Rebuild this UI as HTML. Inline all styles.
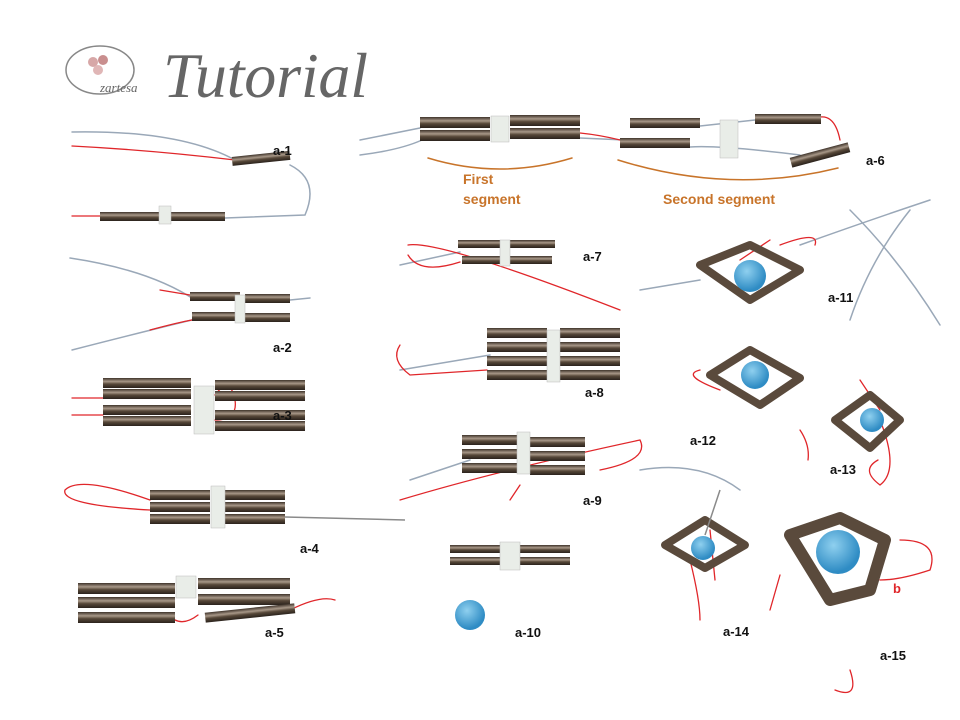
<!DOCTYPE html>
<html><head><meta charset="utf-8"><style>
html,body{margin:0;padding:0;background:#fff;width:960px;height:720px;overflow:hidden}
svg{display:block}
.l{font-family:"Liberation Sans",sans-serif;font-weight:bold;font-size:13px;fill:#111}
.o{font-family:"Liberation Sans",sans-serif;font-weight:bold;font-size:14px;fill:#c8742a}
</style></head><body>
<svg width="960" height="720" viewBox="0 0 960 720" xmlns="http://www.w3.org/2000/svg">
<defs>
<linearGradient id="b" x1="0" y1="0" x2="0" y2="1">
<stop offset="0" stop-color="#3e332a"/><stop offset="0.35" stop-color="#a89888"/><stop offset="0.6" stop-color="#574839"/><stop offset="1" stop-color="#2a221c"/></linearGradient>
<radialGradient id="ball" cx="0.4" cy="0.35" r="0.6"><stop offset="0" stop-color="#8fd0ef"/><stop offset="1" stop-color="#2f8cc4"/></radialGradient>
</defs>
<!-- logo -->
<ellipse cx="100" cy="70" rx="34" ry="24" fill="none" stroke="#888" stroke-width="1.5"/>
<circle cx="93" cy="62" r="5" fill="#d7a7a7"/><circle cx="103" cy="60" r="5" fill="#c98e8e"/><circle cx="98" cy="70" r="5" fill="#e0b6b6"/>
<text x="100" y="92" font-family="Liberation Serif,serif" font-style="italic" font-size="13" fill="#666">zartesa</text>
<text x="163" y="97" font-family="Liberation Serif,serif" font-style="italic" font-size="64" fill="#666" textLength="205">Tutorial</text>
<g fill="none" stroke-linecap="round">
<g stroke="#9aa8b8" stroke-width="1.5">
<path d="M72 132 Q180 130 235 160 M290 165 Q320 180 305 215 L225 218"/>
<path d="M70 258 Q150 270 195 300 M72 350 Q150 330 200 318 M290 300 L310 298"/>
<path d="M360 155 Q400 150 422 140 M360 140 L420 128 M580 138 L625 140 M700 126 L755 120 M690 147 Q720 145 800 155"/>
<path d="M400 265 L460 252 M400 370 L490 355 M410 480 L470 460 M640 290 L700 280 M640 470 Q700 460 740 490"/>
<path d="M930 200 Q870 220 800 245 M910 210 Q870 260 850 320 M850 210 Q900 260 940 325"/>
</g>
<g stroke="#e0262a" stroke-width="1.3">
<path d="M72 146 Q150 150 235 160 M72 216 L100 216"/>
<path d="M190 295 L160 290 M192 320 Q180 322 150 330"/>
<path d="M72 398 L103 398 M72 415 L103 415 M215 395 Q230 375 235 400 Q238 420 215 420"/>
<path d="M150 500 Q80 475 65 490 Q60 505 150 510"/>
<path d="M290 610 Q320 595 335 600 M175 620 Q185 625 198 615"/>
<path d="M580 133 Q600 135 620 140 M820 117 Q835 115 840 140"/>
<path d="M408 245 Q440 240 620 310 M460 262 Q420 275 408 255"/>
<path d="M400 345 Q390 360 410 375 L487 370"/>
<path d="M400 500 Q500 470 640 440 Q650 460 600 470 M520 485 L510 500"/>
<path d="M780 245 Q820 230 815 245 M770 240 L740 260"/>
<path d="M700 370 Q680 375 720 390 M800 430 Q810 445 808 460"/>
<path d="M880 420 Q900 470 880 485 Q860 470 878 460 M860 380 L880 410"/>
<path d="M690 560 Q700 600 700 620 M715 580 L710 530"/>
<path d="M900 540 Q940 540 930 570 Q900 580 880 580 M780 575 L770 610 M850 670 Q860 700 835 690"/>
</g>
<g stroke="#c8742a" stroke-width="1.5">
<path d="M428 158 Q500 180 572 158"/>
<path d="M618 160 Q730 195 838 168"/>
</g>
</g>
<g fill="url(#b)">
<rect x="232" y="154" width="58" height="9" transform="rotate(-6 260 158)"/>
<rect x="100" y="212" width="125" height="9"/>
<rect x="190" y="292" width="50" height="9"/><rect x="245" y="294" width="45" height="9"/>
<rect x="192" y="312" width="48" height="9"/><rect x="245" y="313" width="45" height="9"/>
<rect x="103" y="378" width="88" height="10"/><rect x="103" y="389" width="88" height="10"/>
<rect x="103" y="405" width="88" height="10"/><rect x="103" y="416" width="88" height="10"/>
<rect x="215" y="380" width="90" height="10"/><rect x="215" y="391" width="90" height="10"/>
<rect x="215" y="410" width="90" height="10"/><rect x="215" y="421" width="90" height="10"/>
<rect x="150" y="490" width="60" height="10"/><rect x="150" y="502" width="60" height="10"/><rect x="150" y="514" width="60" height="10"/>
<rect x="225" y="490" width="60" height="10"/><rect x="225" y="502" width="60" height="10"/><rect x="225" y="514" width="60" height="10"/>
<rect x="78" y="583" width="97" height="11"/><rect x="78" y="597" width="97" height="11"/><rect x="78" y="612" width="97" height="11"/>
<rect x="198" y="578" width="92" height="11"/><rect x="198" y="594" width="92" height="11"/>
<rect x="205" y="608" width="90" height="10" transform="rotate(-6 250 613)"/>
<rect x="420" y="117" width="70" height="11"/><rect x="420" y="130" width="70" height="11"/>
<rect x="510" y="115" width="70" height="11"/><rect x="510" y="128" width="70" height="11"/>
<rect x="630" y="118" width="70" height="10"/><rect x="620" y="138" width="70" height="10"/>
<rect x="755" y="114" width="66" height="10"/><rect x="790" y="150" width="60" height="10" transform="rotate(-15 820 155)"/>
<rect x="458" y="240" width="45" height="8"/><rect x="510" y="240" width="45" height="8"/>
<rect x="462" y="256" width="42" height="8"/><rect x="510" y="256" width="42" height="8"/>
<rect x="487" y="328" width="60" height="10"/><rect x="487" y="342" width="60" height="10"/><rect x="487" y="356" width="60" height="10"/><rect x="487" y="370" width="60" height="10"/>
<rect x="560" y="328" width="60" height="10"/><rect x="560" y="342" width="60" height="10"/><rect x="560" y="356" width="60" height="10"/><rect x="560" y="370" width="60" height="10"/>
<rect x="462" y="435" width="55" height="10"/><rect x="462" y="449" width="55" height="10"/><rect x="462" y="463" width="55" height="10"/>
<rect x="530" y="437" width="55" height="10"/><rect x="530" y="451" width="55" height="10"/><rect x="530" y="465" width="55" height="10"/>
<rect x="450" y="545" width="50" height="8"/><rect x="450" y="557" width="50" height="8"/>
<rect x="520" y="545" width="50" height="8"/><rect x="520" y="557" width="50" height="8"/>
</g>
<g stroke="#5a4a3c" stroke-width="8" fill="none" stroke-linejoin="round">
<path d="M700 265 L750 245 L800 270 L750 300 Z"/>
<path d="M710 375 L750 350 L800 378 L760 405 Z"/>
<path d="M835 420 L870 395 L900 420 L870 448 Z"/>
<path d="M665 545 L705 520 L745 545 L705 568 Z"/>
<path d="M790 535 L840 518 L885 540 L870 590 L830 600 Z" stroke-width="12"/>
</g>
<g fill="#e9ede8" stroke="#bbb" stroke-width="0.5">
<rect x="159" y="206" width="12" height="18"/><rect x="235" y="295" width="10" height="28"/>
<rect x="194" y="386" width="20" height="48"/><rect x="211" y="486" width="14" height="42"/>
<rect x="176" y="576" width="20" height="22"/><rect x="491" y="116" width="18" height="26"/>
<rect x="720" y="120" width="18" height="38"/><rect x="500" y="240" width="10" height="26"/>
<rect x="547" y="330" width="13" height="52"/><rect x="517" y="432" width="13" height="42"/>
<rect x="500" y="542" width="20" height="28"/>
</g>
<g fill="url(#ball)">
<circle cx="750" cy="276" r="16"/><circle cx="755" cy="375" r="14"/><circle cx="872" cy="420" r="12"/>
<circle cx="470" cy="615" r="15"/><circle cx="703" cy="548" r="12"/><circle cx="838" cy="552" r="22"/>
</g>
<g stroke="#8a8a8a" stroke-width="1.5">
<line x1="285" y1="517" x2="405" y2="520"/><line x1="720" y1="490" x2="705" y2="535"/>
</g>
<text class="l" x="273" y="155">a-1</text><text class="l" x="273" y="352">a-2</text>
<text class="l" x="273" y="420">a-3</text><text class="l" x="300" y="553">a-4</text>
<text class="l" x="265" y="637">a-5</text><text class="l" x="866" y="165">a-6</text>
<text class="l" x="583" y="261">a-7</text><text class="l" x="585" y="397">a-8</text>
<text class="l" x="583" y="505">a-9</text><text class="l" x="515" y="637">a-10</text>
<text class="l" x="828" y="302">a-11</text><text class="l" x="690" y="445">a-12</text>
<text class="l" x="830" y="474">a-13</text><text class="l" x="723" y="636">a-14</text>
<text class="l" x="880" y="660">a-15</text>
<text class="o" x="463" y="184">First</text><text class="o" x="463" y="204">segment</text>
<text class="o" x="663" y="204">Second segment</text>
<text x="893" y="593" font-family="Liberation Sans,sans-serif" font-weight="bold" font-size="13" fill="#e0262a">b</text>
</svg>
</body></html>
